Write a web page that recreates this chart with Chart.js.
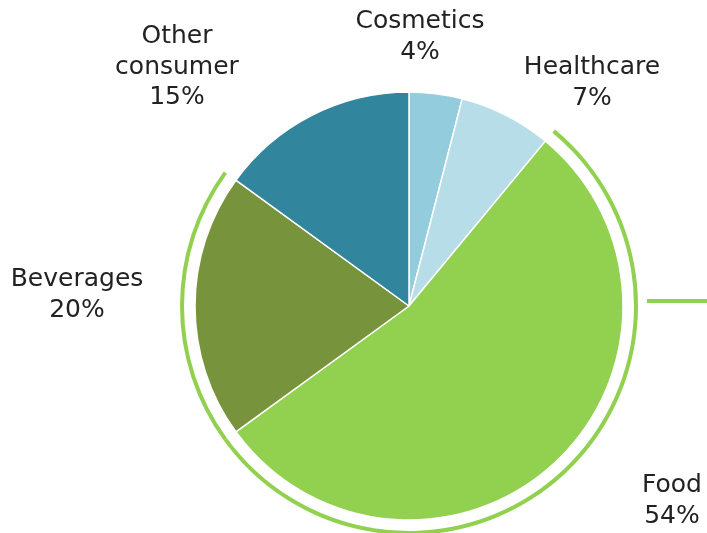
<!DOCTYPE html>
<html>
<head>
  <title>Consumer segments</title>
  <script src="https://cdn.jsdelivr.net/npm/chart.js"></script>
  <style>
    html, body { margin: 0; padding: 0; background: #fff; }
    #segments-chart { display: block; }
  </style>
</head>
<body>
  <canvas id="segments-chart" width="707" height="533"></canvas>
  <script>
    // segment shares in percent, clockwise from 12 o'clock
    const segments = ["Cosmetics", "Healthcare", "Food", "Beverages", "Other consumer"];
    const shares = [4, 7, 54, 20, 15];
    const sliceColors = ["#93CDDD", "#B7DEE8", "#92D050", "#77933C", "#31859C"];
    // segments grouped by the outer bracket
    const bracketed = ["Food", "Beverages"];

    // label lines and where they sit, relative to the pie centre
    const labelLines = [["Cosmetics", "4%"], ["Healthcare", "7%"], ["Food", "54%"], ["Beverages", "20%"], ["Other", "consumer", "15%"]];
    const labelOffsets = [[11, -278], [183, -232], [263, 186], [-332, -20], [-232, -263]];

    const green = "#92D050";
    const pieRadius = 214;

    const labelPlugin = {
      id: "sliceLabels",
      afterDraw(chart) {
        const ctx = chart.ctx;
        const arc = chart.getDatasetMeta(2).data[0];
        const cx = arc.x, cy = arc.y;
        ctx.save();

        // pointer from the bracket towards the right edge
        const ring = chart.getDatasetMeta(0).data[2];
        ctx.strokeStyle = green;
        ctx.lineWidth = 4;
        ctx.beginPath();
        ctx.moveTo(cx + ring.outerRadius + 9, cy - 5);
        ctx.lineTo(chart.width, cy - 5);
        ctx.stroke();

        ctx.fillStyle = "#222222";
        ctx.font = "25px 'DejaVu Sans'";
        ctx.textAlign = "center";
        ctx.textBaseline = "alphabetic";
        labelLines.forEach(function(lines, i) {
          const x = cx + labelOffsets[i][0];
          const y = cy + labelOffsets[i][1];
          lines.forEach(function(line, j) {
            ctx.fillText(line, x, y + j * 30.5);
          });
        });
        ctx.restore();
      }
    };

    const ctx = document.getElementById("segments-chart").getContext("2d");
    new Chart(ctx, {
      type: "pie",
      data: {
        labels: segments,
        datasets: [
          {
            // thin bracket around the grouped segments
            data: shares,
            backgroundColor: segments.map(s => bracketed.includes(s) ? green : "rgba(0,0,0,0)"),
            borderWidth: 0,
            weight: 4
          },
          {
            // empty gap between bracket and pie
            data: shares,
            backgroundColor: "rgba(0,0,0,0)",
            borderWidth: 0,
            weight: 11
          },
          {
            data: shares,
            backgroundColor: sliceColors,
            borderColor: "#ffffff",
            borderWidth: 1.5,
            weight: pieRadius
          }
        ]
      },
      options: {
        responsive: false,
        animation: false,
        events: [],
        radius: pieRadius + 15,
        layout: { padding: { left: 111, right: 0, top: 79, bottom: 0 } },
        plugins: {
          legend: { display: false },
          tooltip: { enabled: false }
        }
      },
      plugins: [labelPlugin]
    });
  </script>
</body>
</html>
